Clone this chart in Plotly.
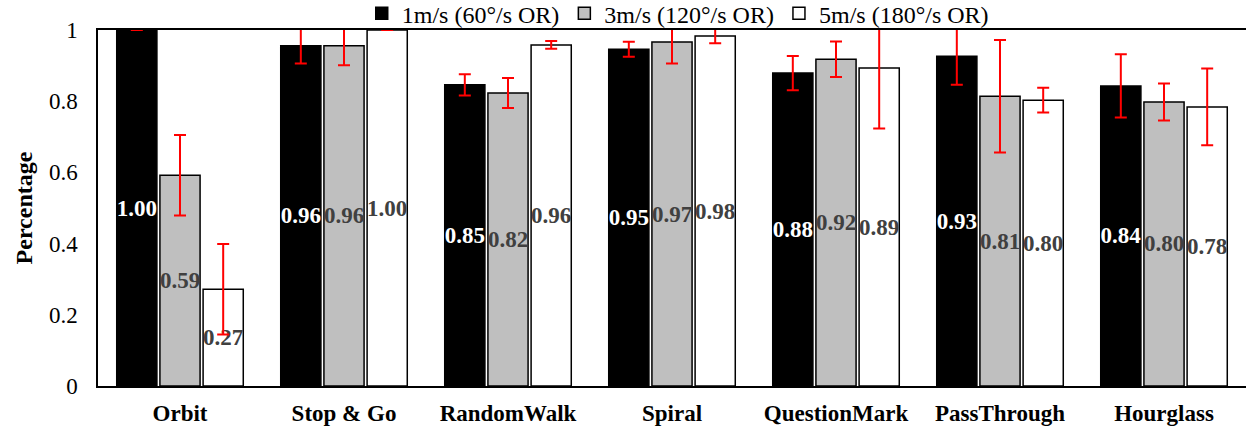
import plotly.graph_objects as go

categories = ["Orbit", "Stop & Go", "RandomWalk", "Spiral", "QuestionMark", "PassThrough", "Hourglass"]
series_names = ["1m/s (60°/s OR)", "3m/s (120°/s OR)", "5m/s (180°/s OR)"]

v_1ms = [1.00, 0.956, 0.846, 0.946, 0.879, 0.926, 0.843]
v_3ms = [0.592, 0.956, 0.823, 0.966, 0.918, 0.814, 0.798]
v_5ms = [0.272, 1.00, 0.958, 0.983, 0.893, 0.803, 0.784]

e_1ms = [0.0, 0.05, 0.03, 0.021, 0.048, 0.08, 0.089]
e_3ms = [0.113, 0.055, 0.042, 0.06, 0.05, 0.158, 0.052]
e_5ms = [0.127, 0.0, 0.011, 0.02, 0.17, 0.035, 0.108]

y_ticks = [0, 0.2, 0.4, 0.6, 0.8, 1.0]
y_tick_text = ["0", "0.2", "0.4", "0.6", "0.8", "1"]

FONT = "Liberation Serif, Times New Roman, DejaVu Serif, serif"
fills = ["#000000", "#bfbfbf", "#ffffff"]
text_cols = ["#ffffff", "#404040", "#404040"]

fig = go.Figure()
for name, vals, errs, fc, tc in zip(series_names, [v_1ms, v_3ms, v_5ms],
                                    [e_1ms, e_3ms, e_5ms], fills, text_cols):
    fig.add_trace(go.Bar(
        x=categories, y=vals, name=name,
        marker=dict(color=fc, line=dict(color="#000000", width=1.5)),
        error_y=dict(type="data", array=errs, color="#ff0000", thickness=2, width=6),
        texttemplate="%{y:.2f}", textposition="inside", insidetextanchor="middle",
        textangle=0, constraintext="none",
        textfont=dict(family=FONT, size=23, color=tc, weight="bold"),
    ))

fig.update_layout(
    width=1247, height=430,
    margin=dict(l=98, r=1, t=30, b=44, autoexpand=False),
    paper_bgcolor="white", plot_bgcolor="white",
    barmode="group", bargap=0.21, bargroupgap=0.07,
    font=dict(family=FONT, size=23, color="#000000"),
    showlegend=True,
    legend=dict(orientation="h", x=0.505, xanchor="center", y=0.983, yanchor="bottom",
                bgcolor="rgba(0,0,0,0)", font=dict(family=FONT, size=24),
                itemwidth=30, tracegroupgap=0),
)
fig.update_yaxes(range=[0, 1], tickvals=y_ticks, ticktext=y_tick_text, showgrid=False,
                 zeroline=False, showline=True, linecolor="#000000", linewidth=1.5,
                 ticks="", ticklabelstandoff=14,
                 title=dict(text="Percentage", font=dict(family=FONT, size=24, weight="bold"), standoff=10),
                 tickfont=dict(family=FONT, size=23))
fig.update_xaxes(showline=True, mirror=True, linecolor="#000000", linewidth=1.5, ticks="",
                 ticklabelstandoff=6,
                 tickfont=dict(family=FONT, size=23, weight="bold"))

fig.write_html("out.html")
